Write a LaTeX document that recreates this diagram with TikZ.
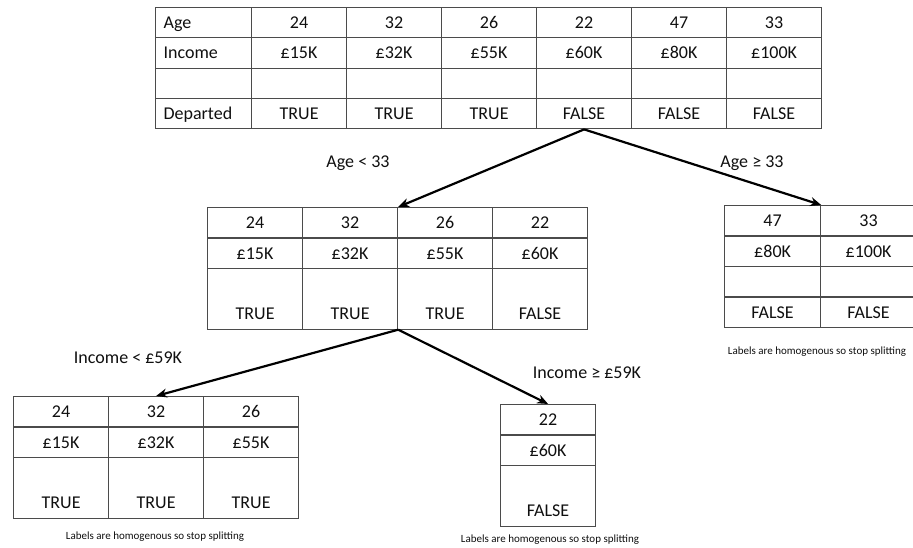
\documentclass[tikz,border=0pt]{standalone}
\usepackage{fontspec}
\setmainfont{Carlito}
\usetikzlibrary{arrows.meta}
\definecolor{gridline}{RGB}{75,75,75}
\definecolor{ink}{RGB}{15,15,15}
\begin{document}
\begin{tikzpicture}[x=1pt,y=-1pt,
  cell/.style={draw=gridline, line width=1.2pt, anchor=north west,
    minimum width=95pt, minimum height=#1, inner sep=0pt,
    text height=11.6pt, text depth=0pt, text=ink,
    font=\fontsize{18}{20}\selectfont},
  cell/.default=30.3pt,
  headcell/.style={cell, minimum width=96pt, text width=80pt, align=left},
  tallcell/.style={cell=60.5pt, label={[text=ink, yshift=-15pt,
    font=\fontsize{18}{20}\selectfont, text height=11.6pt, text depth=0pt,
    inner sep=0pt]center:#1}},
  branch/.style={line width=2.2pt, -{Stealth[length=11pt, width=9pt]}},
  cond/.style={text=ink, font=\fontsize{18}{20}\selectfont, inner sep=0pt},
  note/.style={text=ink, font=\fontsize{11}{13}\selectfont, inner sep=0pt}]
\useasboundingbox (0,0) rectangle (913,548);

% root table: all six records
\node[headcell] (top-0-1) at (155,7) {Age};
\node[headcell] (top-0-2) at (155,37.3) {Income};
\node[headcell] (top-0-3) at (155,67.6) {};
\node[headcell] (top-0-4) at (155,97.9) {Departed};
\foreach \a/\inc/\d [count=\i] in {24/£15K/TRUE, 32/£32K/TRUE, 26/£55K/TRUE,
    22/£60K/FALSE, 47/£80K/FALSE, 33/£100K/FALSE} {
  \node[cell] (top-\i-1) at ({251+95*(\i-1)},7) {\a};
  \node[cell] (top-\i-2) at ({251+95*(\i-1)},37.3) {\inc};
  \node[cell] (top-\i-3) at ({251+95*(\i-1)},67.6) {};
  \node[cell] (top-\i-4) at ({251+95*(\i-1)},97.9) {\d};
}

% left child: Age < 33
\foreach \a/\inc/\d [count=\i] in {24/£15K/TRUE, 32/£32K/TRUE, 26/£55K/TRUE,
    22/£60K/FALSE} {
  \node[cell] (mid-\i-1) at ({207+95*(\i-1)},207) {\a};
  \node[cell] (mid-\i-2) at ({207+95*(\i-1)},237.5) {\inc};
  \node[tallcell=\d] (mid-\i-3) at ({207+95*(\i-1)},268) {};
}

% right child: Age >= 33
\foreach \a/\inc/\d [count=\i] in {47/£80K/FALSE, 33/£100K/FALSE} {
  \node[cell, minimum width=96pt] (rgt-\i-1) at ({724+96*(\i-1)},205) {\a};
  \node[cell, minimum width=96pt] (rgt-\i-2) at ({724+96*(\i-1)},235.5) {\inc};
  \node[cell, minimum width=96pt] (rgt-\i-3) at ({724+96*(\i-1)},266) {};
  \node[cell, minimum width=96pt] (rgt-\i-4) at ({724+96*(\i-1)},296.5) {\d};
}

% grandchildren: Income split
\foreach \a/\inc/\d [count=\i] in {24/£15K/TRUE, 32/£32K/TRUE, 26/£55K/TRUE} {
  \node[cell] (bl-\i-1) at ({13+95*(\i-1)},396) {\a};
  \node[cell] (bl-\i-2) at ({13+95*(\i-1)},426.5) {\inc};
  \node[tallcell=\d] (bl-\i-3) at ({13+95*(\i-1)},457) {};
}
\node[cell] (bm-1-1) at (500,404) {22};
\node[cell] (bm-1-2) at (500,434.5) {£60K};
\node[tallcell=FALSE] (bm-1-3) at (500,465) {};

% splits
\draw[branch] (top-4-4.south) -- (mid-2-1.north east);
\draw[branch] (top-4-4.south) -- (rgt-1-1.north east);
\draw[branch] (mid-2-3.south east) -- (bl-2-1.north);
\draw[branch] (mid-2-3.south east) -- (bm-1-1.north);

% split conditions
\node[cond] (c1) at (358,163) {Age < 33};
\node[cond] (c2) at (752,163) {Age ≥ 33};
\node[cond] (c3) at (128,358) {Income < £59K};
\node[cond] (c4) at (587,373) {Income ≥ £59K};

% leaf notes
\node[note] (n1) at (817,352) {Labels are homogenous so stop splitting};
\node[note] (n2) at (155,537) {Labels are homogenous so stop splitting};
\node[note] (n3) at (550,540) {Labels are homogenous so stop splitting};
\end{tikzpicture}
\end{document}
